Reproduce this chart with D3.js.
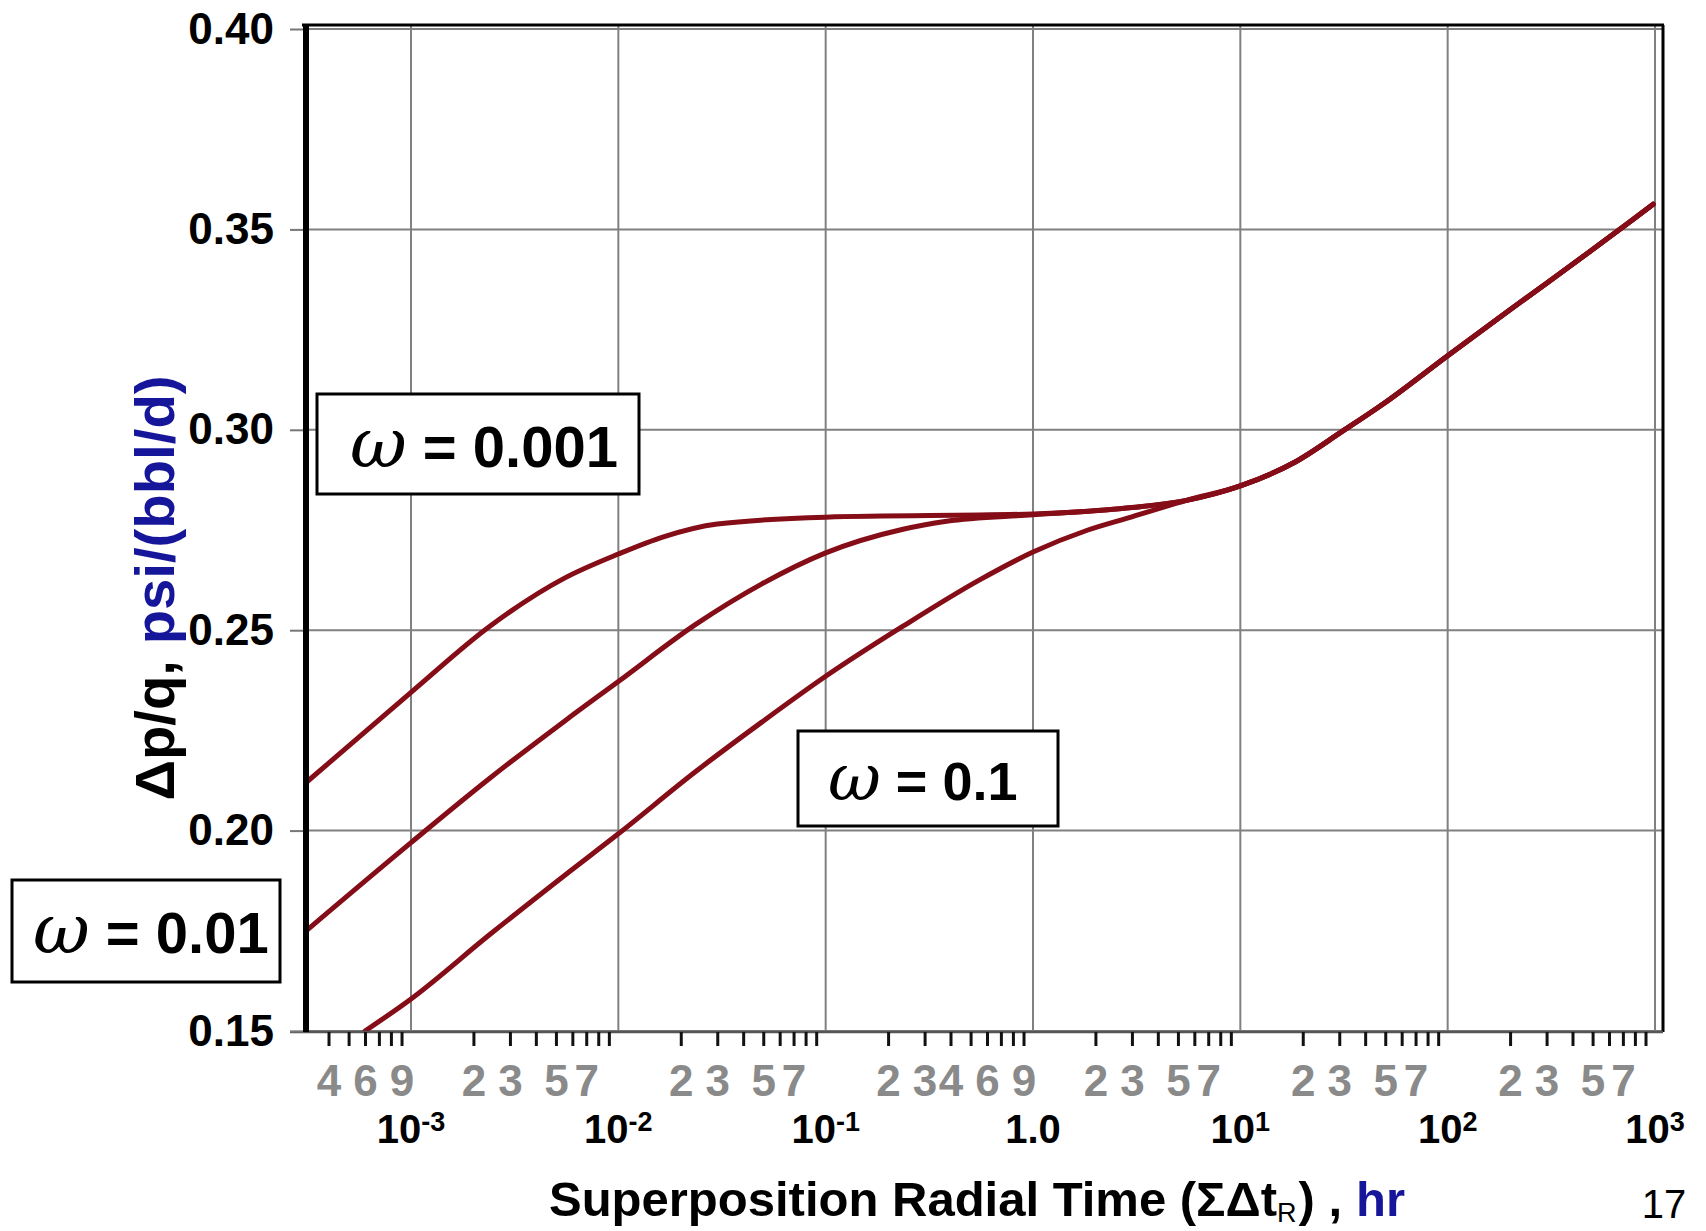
<!DOCTYPE html>
<html>
<head>
<meta charset="utf-8">
<script src="https://cdn.jsdelivr.net/npm/d3@7"></script>
<style>
  html, body { margin: 0; padding: 0; background: #ffffff; }
  svg { display: block; }
</style>
</head>
<body>
<svg id="chart" width="1706" height="1231"></svg>
<script>
// Pressure-derivative type curves: Δp/q against superposition radial time,
// one curve for each storativity ratio ω.

const seriesNames = ["ω = 0.001", "ω = 0.01", "ω = 0.1"];

const timeOmega0001 = [3.12e-4, 1e-3, 2.4e-3, 5.5e-3, 1e-2, 1.65e-2, 3e-2, 0.1, 1, 3,
  5.5, 10, 18, 31, 49, 100, 224, 480, 760, 980];
const valueOmega0001 = [0.2120, 0.2345, 0.2510, 0.2630, 0.2690, 0.2733, 0.2765, 0.2782, 0.2790, 0.2806,
  0.2824, 0.2860, 0.2917, 0.2996, 0.3065, 0.3185, 0.3318, 0.3443, 0.3520, 0.3563];

const timeOmega001 = [3.12e-4, 1e-3, 2.39e-3, 5.56e-3, 1e-2, 2.37e-2, 4.9e-2, 0.1, 0.236, 0.383, 1, 3,
  5.5, 10, 18, 31, 49, 100, 224, 480, 760, 980];
const valueOmega001 = [0.1750, 0.1970, 0.2130, 0.2275, 0.2372, 0.2515, 0.2615, 0.2693, 0.2752, 0.2772, 0.2788, 0.2806,
  0.2824, 0.2860, 0.2917, 0.2996, 0.3065, 0.3185, 0.3318, 0.3443, 0.3520, 0.3563];

const timeOmega01 = [6.0e-4, 1e-3, 2.39e-3, 5.56e-3, 1e-2, 2.37e-2, 4.9e-2, 0.1, 0.236, 0.55, 1, 1.84, 3,
  5.5, 10, 18, 31, 49, 100, 224, 480, 760, 980];
const valueOmega01 = [0.1500, 0.1580, 0.1740, 0.1890, 0.1992, 0.2148, 0.2270, 0.2385, 0.2510, 0.2625, 0.2695, 0.2750, 0.2783,
  0.2824, 0.2860, 0.2917, 0.2996, 0.3065, 0.3185, 0.3318, 0.3443, 0.3520, 0.3563];

// Axis ticks and labels
const yTicks = [0.15, 0.20, 0.25, 0.30, 0.35, 0.40];
const yTickLabels = ["0.15", "0.20", "0.25", "0.30", "0.35", "0.40"];

const decadeTicks = [1e-3, 1e-2, 1e-1, 1, 10, 100, 1000];
const decadeBase = ["10", "10", "10", "1.0", "10", "10", "10"];
const decadeExponent = ["-3", "-2", "-1", "", "1", "2", "3"];

const minorMantissas = [2, 3, 4, 5, 6, 7, 8, 9];
const minorLabelled = [4e-4, 6e-4, 9e-4,
  2e-3, 3e-3, 5e-3, 7e-3,
  2e-2, 3e-2, 5e-2, 7e-2,
  0.2, 0.3, 0.4, 0.6, 0.9,
  2, 3, 5, 7,
  20, 30, 50, 70,
  200, 300, 500, 700];

// x title pieces: text, subscript flag, colour key
const xTitleParts = [
  { text: "Superposition Radial Time (ΣΔt", sub: false, blue: false },
  { text: "R", sub: true, blue: false },
  { text: ") ,", sub: false, blue: false },
  { text: "hr", sub: false, blue: true }
];
const yTitleBlack = "Δp/q, ";
const yTitleBlue = "psi/(bbl/d)";
const pageNumber = "17";

// ---- layout ----
const plot = { left: 306, right: 1663, top: 25, bottom: 1032 };
const sans = "'Liberation Sans', Arial, sans-serif";
const curveColor = "#850d17";
const gridColor = "#808080";
const blue = "#16169a";

const svg = d3.select("#chart");
svg.append("rect").attr("width", 1706).attr("height", 1231).attr("fill", "#ffffff");

const x = d3.scaleLog()
  .domain([Math.pow(10, -3.5065), Math.pow(10, 3.0386)])
  .range([plot.left, plot.right]);
const y = d3.scaleLinear()
  .domain([0.15, 0.40])
  .range([1031, 29]);

// grid
const grid = svg.append("g");
grid.selectAll("line.v").data(decadeTicks).join("line")
  .attr("x1", d => x(d)).attr("x2", d => x(d))
  .attr("y1", plot.top).attr("y2", plot.bottom)
  .attr("stroke", gridColor).attr("stroke-width", 2);
grid.selectAll("line.h").data(yTicks).join("line")
  .attr("x1", plot.left).attr("x2", plot.right)
  .attr("y1", d => y(d)).attr("y2", d => y(d))
  .attr("stroke", gridColor).attr("stroke-width", 2);

// curves
const series = [
  { name: seriesNames[0], t: timeOmega0001, v: valueOmega0001 },
  { name: seriesNames[1], t: timeOmega001, v: valueOmega001 },
  { name: seriesNames[2], t: timeOmega01, v: valueOmega01 }
];
const line = d3.line()
  .x(d => x(d[0]))
  .y(d => y(d[1]))
  .curve(d3.curveMonotoneX);

svg.append("clipPath").attr("id", "plotClip")
  .append("rect")
  .attr("x", plot.left).attr("y", plot.top)
  .attr("width", plot.right - plot.left).attr("height", plot.bottom - plot.top);

svg.append("g").attr("clip-path", "url(#plotClip)")
  .selectAll("path").data(series).join("path")
  .attr("d", s => line(s.t.map((t, i) => [t, s.v[i]])))
  .attr("fill", "none")
  .attr("stroke", curveColor)
  .attr("stroke-width", 5)
  .attr("stroke-linejoin", "round")
  .attr("stroke-linecap", "round");

// frame: top and right border, bottom axis line
svg.append("line").attr("x1", plot.left - 4).attr("x2", plot.right + 1)
  .attr("y1", plot.top).attr("y2", plot.top)
  .attr("stroke", "#000").attr("stroke-width", 3);
svg.append("line").attr("x1", plot.right).attr("x2", plot.right)
  .attr("y1", plot.top).attr("y2", plot.bottom)
  .attr("stroke", "#000").attr("stroke-width", 3);
svg.append("line").attr("x1", 290).attr("x2", plot.right)
  .attr("y1", plot.bottom).attr("y2", plot.bottom)
  .attr("stroke", "#555").attr("stroke-width", 2.5);

// y axis
const yAxis = d3.axisLeft(y)
  .tickValues(yTicks)
  .tickFormat((d, i) => yTickLabels[i])
  .tickSize(14)
  .tickPadding(16);
const gy = svg.append("g").attr("transform", `translate(${plot.left - 2},0)`).call(yAxis);
gy.select(".domain").remove();
gy.selectAll(".tick line").attr("stroke", "#777").attr("stroke-width", 2);
gy.selectAll(".tick text")
  .attr("fill", "#000")
  .style("font-family", sans)
  .style("font-weight", "bold")
  .style("font-size", "44px");

// heavy left axis
svg.append("line").attr("x1", plot.left).attr("x2", plot.left)
  .attr("y1", plot.top - 1).attr("y2", plot.bottom)
  .attr("stroke", "#000").attr("stroke-width", 6);

// x axis minor ticks with grey mantissa labels
const minorTicks = [];
for (let k = -4; k <= 2; k++) {
  minorMantissas.forEach(m => {
    const v = m * Math.pow(10, k);
    if (v >= x.domain()[0] && v <= x.domain()[1]) minorTicks.push(v);
  });
}
const isLabelled = v => minorLabelled.some(l => Math.abs(l - v) / l < 1e-6);
const xAxis = d3.axisBottom(x)
  .tickValues(minorTicks)
  .tickFormat(v => isLabelled(v) ? String(Math.round(v / Math.pow(10, Math.floor(Math.log10(v) + 1e-9)))) : "")
  .tickSize(14)
  .tickPadding(19);
const gx = svg.append("g").attr("transform", `translate(0,${plot.bottom})`).call(xAxis);
gx.select(".domain").remove();
gx.selectAll(".tick line").attr("stroke", "#111").attr("stroke-width", 3);
gx.selectAll(".tick text")
  .attr("fill", "#8a8a8a")
  .style("font-family", sans)
  .style("font-weight", "bold")
  .style("font-size", "44px");

// decade labels with superscript exponents
const decadeText = svg.append("g").selectAll("text").data(decadeTicks).join("text")
  .attr("x", d => x(d))
  .attr("y", 1143)
  .attr("text-anchor", "middle")
  .attr("fill", "#000")
  .style("font-family", sans)
  .style("font-weight", "bold")
  .style("font-size", "40px");
decadeText.append("tspan").text((d, i) => decadeBase[i]);
decadeText.append("tspan")
  .attr("dy", -12)
  .style("font-size", "27px")
  .text((d, i) => decadeExponent[i]);

// x axis title, laid out piece by piece
const titleGroup = svg.append("g");
let cursor = 549;
xTitleParts.forEach((p, i) => {
  if (i === 3) cursor += 14;
  const t = titleGroup.append("text")
    .attr("x", cursor)
    .attr("y", p.sub ? 1222 : 1216)
    .attr("fill", p.blue ? blue : "#000")
    .style("font-family", sans)
    .style("font-weight", p.sub ? "normal" : "bold")
    .style("font-size", p.sub ? "27px" : "49px")
    .text(p.text);
  cursor += t.node().getComputedTextLength() + (p.sub ? 2 : 0);
});

// y axis title
const yt = svg.append("text")
  .attr("transform", "translate(174,588) rotate(-90)")
  .attr("text-anchor", "middle")
  .attr("textLength", 425).attr("lengthAdjust", "spacingAndGlyphs")
  .style("font-family", sans)
  .style("font-weight", "bold")
  .style("font-size", "56px");
yt.append("tspan").attr("fill", "#000").text(yTitleBlack);
yt.append("tspan").attr("fill", blue).text(yTitleBlue);

// ω annotation boxes
const boxes = [
  { label: seriesNames[0], x: 317, y: 394, w: 322, h: 100, tx: 350, ty: 467, size: 58 },
  { label: seriesNames[1], x: 12, y: 880, w: 268, h: 102, tx: 33, ty: 953, size: 58 },
  { label: seriesNames[2], x: 798, y: 731, w: 260, h: 95, tx: 828, ty: 800, size: 54 }
];
const bx = svg.append("g").selectAll("g").data(boxes).join("g");
bx.append("rect")
  .attr("x", d => d.x).attr("y", d => d.y)
  .attr("width", d => d.w).attr("height", d => d.h)
  .attr("fill", "#ffffff").attr("stroke", "#000").attr("stroke-width", 3);
const bt = bx.append("text")
  .attr("x", d => d.tx).attr("y", d => d.ty)
  .attr("fill", "#000");
bt.append("tspan")
  .style("font-family", "'DejaVu Serif', serif")
  .style("font-style", "italic")
  .style("font-size", d => (d.size * 1.2) + "px")
  .text(d => d.label.split(" ")[0]);
bt.append("tspan")
  .style("font-family", sans)
  .style("font-weight", "bold")
  .style("font-size", d => d.size + "px")
  .text(d => " " + d.label.split(" ").slice(1).join(" "));

// page number
svg.append("text")
  .attr("x", 1664).attr("y", 1218)
  .attr("text-anchor", "middle")
  .attr("fill", "#000")
  .style("font-family", sans)
  .style("font-size", "40px")
  .text(pageNumber);
</script>
</body>
</html>
